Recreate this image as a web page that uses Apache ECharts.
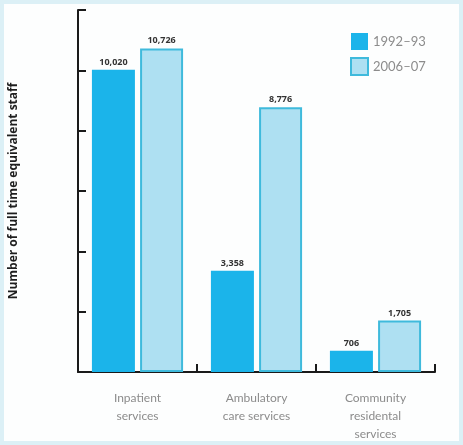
<!DOCTYPE html>
<html>
<head>
<meta charset="utf-8">
<script src="https://cdn.jsdelivr.net/npm/echarts@6/dist/echarts.min.js"></script>
<style>
  html, body { margin: 0; padding: 0; background: #ffffff; }
  #chart { width: 463px; height: 445px; }
</style>
</head>
<body>
<div id="chart"></div>
<script>
// Full time equivalent staff by service type
const categories = ['Inpatient\nservices', 'Ambulatory\ncare services', 'Community\nresidental\nservices'];
const seriesNames = ['1992\u201393', '2006\u201307'];
const staff1992 = [10020, 3358, 706];
const staff2006 = [10726, 8776, 1705];
const yMax = 12000;
const yStep = 2000;

const chart = echarts.init(document.getElementById('chart'), null, { renderer: 'canvas' });

const valueLabel = {
  show: true,
  position: 'top',
  distance: 3,
  fontFamily: 'Open Sans',
  fontWeight: 'bold',
  fontSize: 9,
  color: '#333333',
  formatter: p => p.value.toLocaleString('en-US')
};

const ink = '#1a1a1a';
const tickStyle = { color: ink, width: 2 };

chart.setOption({
  backgroundColor: '#dcf0f6',
  animation: false,
  grid: { left: 78, right: 28, top: 10, bottom: 73 },
  legend: {
    left: 345,
    top: 28,
    orient: 'vertical',
    itemWidth: 17,
    itemHeight: 17,
    itemGap: 7,
    icon: 'rect',
    textStyle: { color: '#8c8c8c', fontSize: 13, fontFamily: 'Lato' },
    data: seriesNames
  },
  xAxis: {
    type: 'category',
    data: categories,
    axisLine: { lineStyle: { color: ink, width: 2 } },
    axisTick: { show: true, interval: 0, inside: true, length: 8, lineStyle: tickStyle },
    axisLabel: {
      interval: 0,
      color: '#8c8c8c',
      fontSize: 12,
      fontFamily: 'Lato',
      lineHeight: 18,
      margin: 17
    }
  },
  yAxis: {
    type: 'value',
    min: 0,
    max: yMax,
    interval: yStep,
    name: 'Number of full time equivalent staff',
    nameLocation: 'middle',
    nameGap: 58,
    nameTextStyle: { fontFamily: 'Open Sans', fontWeight: 'bold', fontSize: 12, color: '#1e1e1e' },
    axisLine: { show: true, lineStyle: { color: ink, width: 2 } },
    axisTick: { show: true, inside: true, length: 8, lineStyle: tickStyle },
    axisLabel: { show: false },
    splitLine: { show: false }
  },
  series: [
    {
      name: seriesNames[0],
      type: 'bar',
      data: staff1992,
      barWidth: 43,
      barGap: '12%',
      itemStyle: { color: '#1bb4ea' },
      label: valueLabel
    },
    {
      name: seriesNames[1],
      type: 'bar',
      data: staff2006,
      barWidth: 43,
      itemStyle: { color: '#aee0f2', borderColor: '#3fbadc', borderWidth: 2 },
      label: valueLabel
    }
  ]
});

// Pale frame behind the chart, plus explicit boundary ticks on the category
// axis and the cap tick at the top of the value axis, placed via the axes.
const W = chart.getWidth();
const H = chart.getHeight();
const c0 = chart.convertToPixel({ xAxisIndex: 0 }, 0);
const c1 = chart.convertToPixel({ xAxisIndex: 0 }, 1);
const band = c1 - c0;
const yBase = chart.convertToPixel({ yAxisIndex: 0 }, 0);
const yTop = chart.convertToPixel({ yAxisIndex: 0 }, yMax);
const xLeft = c0 - band / 2;

const extras = [{
  type: 'rect',
  z: -10,
  silent: true,
  shape: { x: 4, y: 4, width: W - 8, height: H - 8 },
  style: { fill: '#fdfefe' }
}];
for (let i = 1; i <= categories.length; i++) {
  const x = xLeft + band * i;
  extras.push({
    type: 'line',
    silent: true,
    z: 10,
    shape: { x1: x, y1: yBase, x2: x, y2: yBase - 8 },
    style: { stroke: ink, lineWidth: 2 }
  });
}
extras.push({
  type: 'line',
  silent: true,
  z: 10,
  shape: { x1: xLeft, y1: yTop, x2: xLeft + 8, y2: yTop },
  style: { stroke: ink, lineWidth: 2 }
});
chart.setOption({ graphic: extras });
</script>
</body>
</html>
